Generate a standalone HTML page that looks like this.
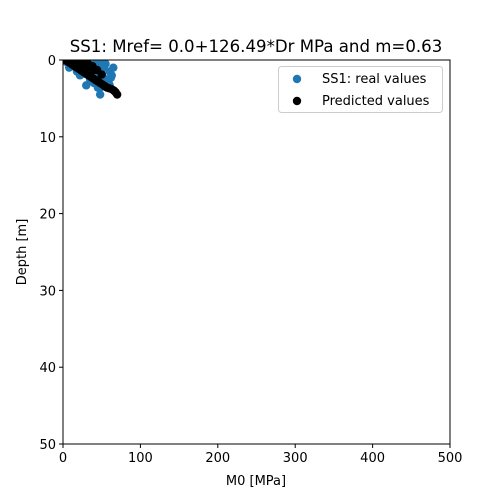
<!DOCTYPE html>
<html><head><meta charset="utf-8"><style>
body{margin:0;background:#fff;}
svg{display:block;font-family:"DejaVu Sans","Liberation Sans",sans-serif;}
</style></head><body>
<svg id="c" width="500" height="499"></svg>
<script>
const xTicks=[0,100,200,300,400,500];
const yTicks=[0,10,20,30,40,50];
const realM=[5,8,10,12,15,18,20,22,25,28,30,32,35,38,40,42,45,48,50,52,55,57,60,63,65,18,22,28,30,35,40,45,48,50,55,58,60,42,38,25,15,50,45,53,62];
const realD=[0.3,1.0,0.5,0.8,0.2,1.5,0.4,2.0,1.0,1.8,3.3,0.6,2.5,1.2,3.0,0.3,3.6,4.5,3.5,0.5,0.5,3.0,1.5,2.0,1.0,0.1,0.3,0.5,0.9,0.8,1.3,2.2,2.8,1.9,2.5,2.6,3.2,2.0,1.6,1.2,0.6,0.2,0.7,1.0,2.3];
const predM=[3,6,9,12,15,18,21,24,27,30,33,36,39,42,45,48,51,54,57,60,63,66,68,70,10,16,22,28,34,40,20,26,32,38,44,50];
const predD=[0.0,0.2,0.4,0.6,0.8,1.0,1.2,1.4,1.6,1.8,2.0,2.2,2.4,2.6,2.8,3.0,3.2,3.4,3.6,3.7,3.8,4.0,4.2,4.5,0.0,0.1,0.3,0.6,0.9,1.3,0.0,0.1,0.4,0.8,1.3,1.9];
const NS='http://www.w3.org/2000/svg';
const svg=document.getElementById('c');
const L=63,R=450,T=60,B=444;
const xs=v=>L+(v-0)/500*(R-L);
const ys=v=>T+(v-0)/50*(B-T);
function mk(t,a,p){const e=document.createElementNS(NS,t);for(const k in a)e.setAttribute(k,a[k]);(p||svg).appendChild(e);return e;}
const clip=mk('clipPath',{id:'cp'});mk('rect',{x:L,y:T,width:R-L,height:B-T},clip);
const g1=mk('g',{'clip-path':'url(#cp)'});
realM.forEach((m,i)=>{const c=mk('circle',{cx:xs(m),cy:ys(realD[i]),r:4.2,fill:'#1f77b4'},g1);

});
predM.forEach((m,i)=>{const c=mk('circle',{cx:xs(m),cy:ys(predD[i]),r:4.2,fill:'#000'},g1);

});
const fr=mk('rect',{x:L,y:T,width:R-L,height:B-T,fill:'none',stroke:'#000','stroke-width':1});

xTicks.forEach(v=>{const x=xs(v);mk('line',{x1:x,x2:x,y1:B,y2:B+4,stroke:'#000'});
const t=mk('text',{x:x,y:B+18,'text-anchor':'middle','font-size':13});t.textContent=v;
});
yTicks.forEach(v=>{const y=ys(v);mk('line',{x1:L-4,x2:L,y1:y,y2:y,stroke:'#000'});
const t=mk('text',{x:L-7,y:y+5,'text-anchor':'end','font-size':13});t.textContent=v;
});
</script>
<svg style="position:absolute;left:0;top:0" width="500" height="499">
<text x="256" y="52" text-anchor="middle" font-size="16.6" font-family="DejaVu Sans,sans-serif">SS1: Mref= 0.0+126.49*Dr MPa and m=0.63</text>
<text x="256" y="485" text-anchor="middle" font-size="13" font-family="DejaVu Sans,sans-serif">M0 [MPa]</text>
<text transform="translate(26,252) rotate(-90)" text-anchor="middle" font-size="13" font-family="DejaVu Sans,sans-serif">Depth [m]</text>
<g>
<rect x="278.5" y="66.5" width="164" height="46" rx="3" fill="#fff" fill-opacity="0.8" stroke="#ccc"/>
<circle cx="297" cy="79" r="4.2" fill="#1f77b4"/>
<text x="322" y="83" font-size="13" font-family="DejaVu Sans,sans-serif">SS1: real values</text>
<circle cx="297" cy="101" r="4.2" fill="#000"/>
<text x="322" y="105" font-size="13" font-family="DejaVu Sans,sans-serif">Predicted values</text>
</g>
</svg>
</body></html>
